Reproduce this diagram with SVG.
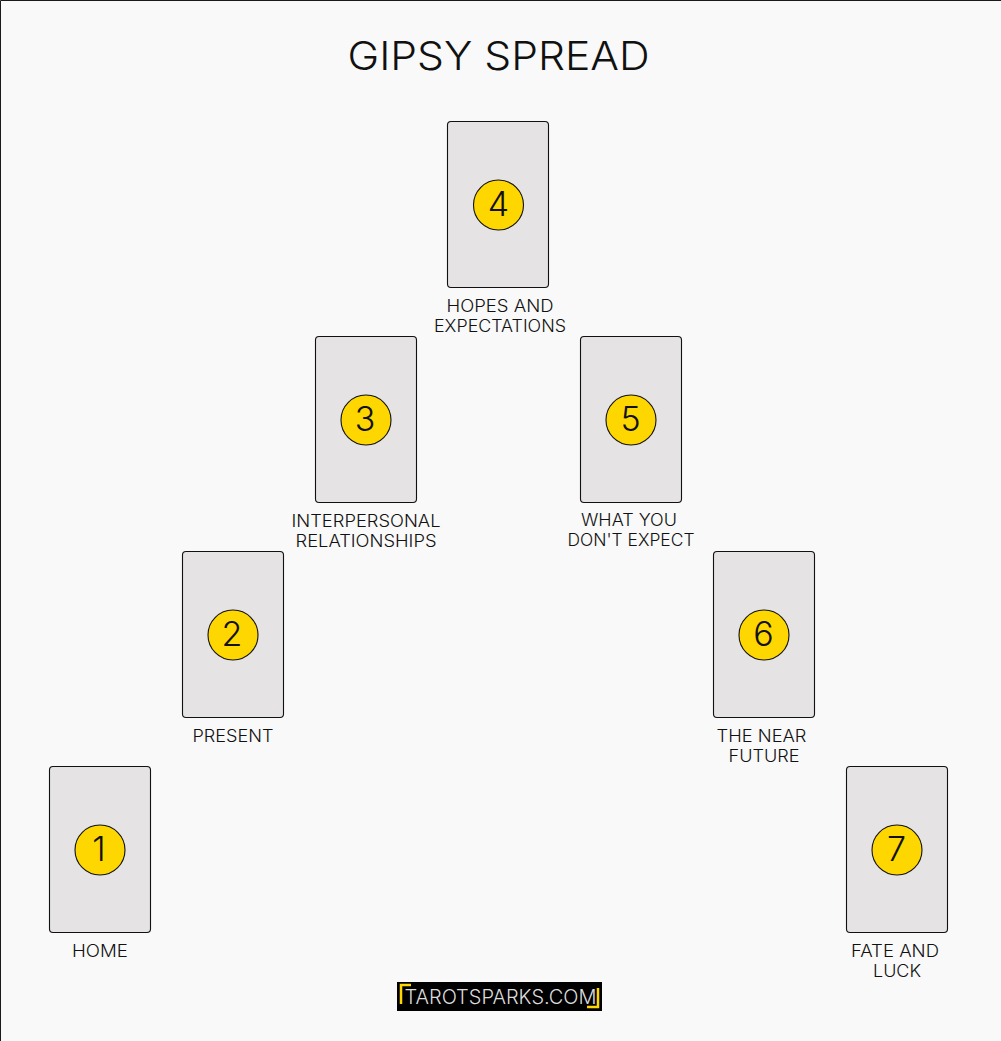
<svg xmlns="http://www.w3.org/2000/svg" width="1001" height="1041" viewBox="0 0 1001 1041">
<style>
.card{fill:#e5e3e3;stroke:#111;stroke-width:1.1}
.dot{fill:#ffd700;stroke:#111;stroke-width:1.1}
text{font-family:"Inter","Open Sans","Liberation Sans",sans-serif;fill:#111;text-anchor:middle}
.num{font-size:34px;font-weight:300}
.lab{font-size:17px;font-weight:350}
.title{font-size:40px;font-weight:300}
.logo{font-size:20px;fill:#dcdcdc;font-weight:300}
.br{fill:none;stroke:#ffd700;stroke-width:2.5}
</style>
<rect x="0" y="0" width="1001" height="1041" fill="#f9f9f9"/>
<path d="M0.5 1041V0.5H1001" fill="none" stroke="#1a1a1a" stroke-width="1"/>
<text class="title" x="498.500" y="70" textLength="302" lengthAdjust="spacingAndGlyphs">GIPSY SPREAD</text>
<g id="card4"><rect class="card" x="447.500" y="121.500" width="101" height="166" rx="3.500"/><circle class="dot" cx="498.500" cy="205" r="25"/><text class="num" x="498.500" y="216">4</text><text class="lab" x="500" y="311.500" textLength="107" lengthAdjust="spacingAndGlyphs">HOPES AND</text><text class="lab" x="500" y="332" textLength="132" lengthAdjust="spacingAndGlyphs">EXPECTATIONS</text></g>
<g id="card3"><rect class="card" x="315.500" y="336.500" width="101" height="166" rx="3.500"/><circle class="dot" cx="366" cy="420" r="25"/><text class="num" x="365" y="431">3</text><text class="lab" x="366" y="526.500" textLength="149" lengthAdjust="spacingAndGlyphs">INTERPERSONAL</text><text class="lab" x="366" y="547" textLength="141" lengthAdjust="spacingAndGlyphs">RELATIONSHIPS</text></g>
<g id="card5"><rect class="card" x="580.500" y="336.500" width="101" height="166" rx="3.500"/><circle class="dot" cx="631" cy="420" r="25"/><text class="num" x="630.500" y="431">5</text><text class="lab" x="629" y="525.500" textLength="96" lengthAdjust="spacingAndGlyphs">WHAT YOU</text><text class="lab" x="631" y="546" textLength="127" lengthAdjust="spacingAndGlyphs">DON'T EXPECT</text></g>
<g id="card2"><rect class="card" x="182.500" y="551.500" width="101" height="166" rx="3.500"/><circle class="dot" cx="233" cy="635" r="25"/><text class="num" x="232" y="646">2</text><text class="lab" x="233" y="741.500" textLength="81" lengthAdjust="spacingAndGlyphs">PRESENT</text></g>
<g id="card6"><rect class="card" x="713.500" y="551.500" width="101" height="166" rx="3.500"/><circle class="dot" cx="764" cy="635" r="25"/><text class="num" x="763.500" y="646">6</text><text class="lab" x="761.500" y="741.500" textLength="90" lengthAdjust="spacingAndGlyphs">THE NEAR</text><text class="lab" x="764" y="762" textLength="71" lengthAdjust="spacingAndGlyphs">FUTURE</text></g>
<g id="card1"><rect class="card" x="49.500" y="766.500" width="101" height="166" rx="3.500"/><circle class="dot" cx="100" cy="850" r="25"/><text class="num" x="99" y="861">1</text><text class="lab" x="100" y="956.500" textLength="56" lengthAdjust="spacingAndGlyphs">HOME</text></g>
<g id="card7"><rect class="card" x="846.500" y="766.500" width="101" height="166" rx="3.500"/><circle class="dot" cx="897" cy="850" r="25"/><text class="num" x="896.500" y="861">7</text><text class="lab" x="895" y="956.500" textLength="88" lengthAdjust="spacingAndGlyphs">FATE AND</text><text class="lab" x="897" y="977" textLength="48" lengthAdjust="spacingAndGlyphs">LUCK</text></g>
<g id="logo"><rect x="397" y="982" width="205" height="29" fill="#000"/><path class="br" d="M401 1004V985H411"/><path class="br" d="M598 988V1007H587"/><text class="logo" x="500.500" y="1004" textLength="192" lengthAdjust="spacingAndGlyphs">TAROTSPARKS.COM</text></g>
<g id="connectors"/>
</svg>
